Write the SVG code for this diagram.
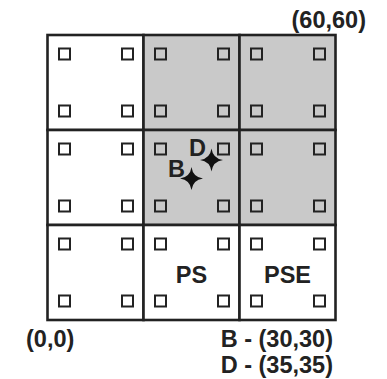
<svg xmlns="http://www.w3.org/2000/svg" width="387" height="379" viewBox="0 0 387 379">
<defs>
<style>
.cell{stroke:#222;stroke-width:2.6}
.w{fill:#fff}
.g{fill:#c9c9c9}
.sq{fill:none;stroke:#222;stroke-width:2}
.t{font-family:"Liberation Sans",Arial,sans-serif;font-weight:bold;font-size:23.5px;fill:#222}
.star{fill:#111}
</style>
<g id="pins">
<rect class="sq" x="11.5" y="13.5" width="11" height="11"/>
<rect class="sq" x="74.5" y="13.5" width="11" height="11"/>
<rect class="sq" x="11.5" y="70.5" width="11" height="11"/>
<rect class="sq" x="74.5" y="70.5" width="11" height="11"/>
</g>
<path id="star" d="M0,-11.5 Q1.4,-1.4 11.5,0 Q1.4,1.4 0,11.5 Q-1.4,1.4 -11.5,0 Q-1.4,-1.4 0,-11.5Z"/>
</defs>
<rect width="387" height="379" fill="#fff"/>
<g id="cell-r0c0" transform="translate(47.5,35)"><rect class="cell w" width="96" height="95"/><use href="#pins"/></g>
<g id="cell-r0c1" transform="translate(143.5,35)"><rect class="cell g" width="96" height="95"/><use href="#pins"/></g>
<g id="cell-r0c2" transform="translate(239.5,35)"><rect class="cell g" width="96" height="95"/><use href="#pins"/></g>
<g id="cell-r1c0" transform="translate(47.5,130)"><rect class="cell w" width="96" height="95"/><use href="#pins"/></g>
<g id="cell-r1c1" transform="translate(143.5,130)"><rect class="cell g" width="96" height="95"/><use href="#pins"/></g>
<g id="cell-r1c2" transform="translate(239.5,130)"><rect class="cell g" width="96" height="95"/><use href="#pins"/></g>
<g id="cell-r2c0" transform="translate(47.5,225)"><rect class="cell w" width="96" height="95"/><use href="#pins"/></g>
<g id="cell-PS" transform="translate(143.5,225)"><rect class="cell w" width="96" height="95"/><use href="#pins"/><text class="t" x="48" y="58" text-anchor="middle">PS</text></g>
<g id="cell-PSE" transform="translate(239.5,225)"><rect class="cell w" width="96" height="95"/><use href="#pins"/><text class="t" x="48" y="58" text-anchor="middle">PSE</text></g>
<g id="connectors"></g>
<g id="point-D"><use href="#star" class="star" x="211.5" y="160"/><text class="t" x="189" y="156">D</text></g>
<g id="point-B"><use href="#star" class="star" x="191.5" y="178.5"/><text class="t" x="168" y="176.5">B</text></g>
<g id="labels">
<text class="t" x="366" y="28" text-anchor="end">(60,60)</text>
<text class="t" x="26" y="346.5">(0,0)</text>
<text class="t" x="333" y="346.5" text-anchor="end">B - (30,30)</text>
<text class="t" x="333" y="373" text-anchor="end">D - (35,35)</text>
</g>
</svg>
